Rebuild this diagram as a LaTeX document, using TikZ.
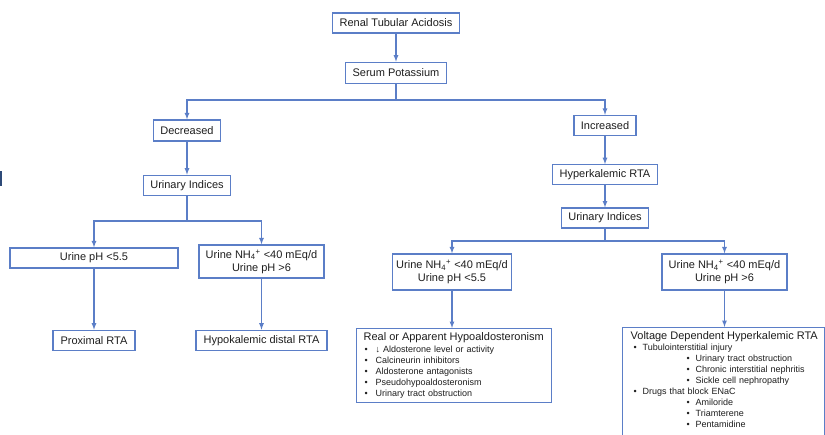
\documentclass[tikz,border=0pt]{standalone}
\usepackage{fontspec}
\setmainfont{Liberation Sans}
\usetikzlibrary{positioning,arrows}
\definecolor{rtablue}{HTML}{5B7EC7}
\definecolor{rtaink}{HTML}{1E1E1E}
\definecolor{rtanavy}{HTML}{2E4A78}
\def\boxfont{\fontsize{11}{13}\selectfont}
\def\listfont{\fontsize{9}{11}\selectfont}
\tikzstyle{stage}=[draw=rtablue,line width=1.3pt,fill=white,text=rtaink,font=\boxfont,inner xsep=4pt,inner ysep=2pt,minimum height=20pt]
\tikzstyle{listbox}=[anchor=north west,align=left,font=\listfont,inner xsep=7pt,inner ysep=4pt]
\tikzstyle{link}=[->,draw=rtablue,line width=1.2pt]
\newcommand{\newBox}[4]{\node[stage,#3](#1)[#4]{#2};}
\newcommand{\newArrow}[3]{\draw[link] (#1) #3 (#2);}
\newcommand{\bul}[2]{\hspace*{#1}\makebox[#2][l]{\textbullet}}
\newcommand{\nhfour}{NH\textsubscript{4}\textsuperscript{+}}

\begin{document}
\begin{tikzpicture}[x=1pt,y=-1pt,>=latex,node distance=20pt and 20pt]
      \useasboundingbox (0,0) rectangle (825,435);
      \clip (0,0) rectangle (825,435);
      \fill[rtanavy] (0,171) rectangle (1.8,186);
      % top of the tree
      \newBox{rta}{Renal Tubular Acidosis}{minimum width=127pt}{at={(396,23)}}
      \newBox{sp}{Serum Potassium}{minimum width=101pt,minimum height=21pt}{below=28pt of rta}
      \newBox{dec}{Decreased}{minimum width=67pt,minimum height=21pt}{at={(187,130.5)}}
      \newBox{inc}{Increased}{minimum width=62pt}{at={(605,125.5)}}
      \coordinate (kJoin) at (396,100);
      \draw[link,-] (sp) -- (kJoin);
      \newArrow{rta}{sp}{--}
      \newArrow{kJoin}{dec}{-|}
      \newArrow{kJoin}{inc}{-|}
      % low potassium side
      \newBox{uiL}{Urinary Indices}{minimum width=87pt}{below=33pt of dec}
      \newBox{phL}{Urine pH <5.5}{minimum width=168pt}{at={(94,258)}}
      \newBox{nhL}{Urine \nhfour{} <40 mEq/d\\Urine pH >6}{minimum width=125pt,minimum height=33pt,align=center}{at={(261.5,261.5)}}
      \newBox{prox}{Proximal RTA}{minimum width=82pt}{below=61pt of phL}
      \newBox{hypo}{Hypokalemic distal RTA}{minimum width=131pt}{below=51pt of nhL}
      \newArrow{dec}{uiL}{--}
      \coordinate (lJoin) at (187,221);
      \draw[link,-] (uiL) -- (lJoin);
      \newArrow{lJoin}{phL}{-|}
      \newArrow{lJoin}{nhL}{-|}
      \newArrow{phL}{prox}{--}
      \newArrow{nhL}{hypo}{--}
      % high potassium side
      \newBox{hk}{Hyperkalemic RTA}{minimum width=105pt}{below=28pt of inc}
      \newBox{uiR}{Urinary Indices}{minimum width=87pt}{below=22pt of hk}
      \newBox{nhM}{Urine \nhfour{} <40 mEq/d\\Urine pH <5.5}{minimum width=117pt,minimum height=36pt,align=center}{at={(452,272)}}
      \newBox{nhR}{Urine \nhfour{} <40 mEq/d\\Urine pH >6}{minimum width=125pt,minimum height=36pt,align=center}{at={(724.5,272)}}
      \newArrow{inc}{hk}{--}
      \newArrow{hk}{uiR}{--}
      \coordinate (rJoin) at (605,241);
      \draw[link,-] (uiR) -- (rJoin);
      \newArrow{rJoin}{nhM}{-|}
      \newArrow{rJoin}{nhR}{-|}
      \newBox{real}{{\boxfont Real or Apparent Hypoaldosteronism}\\[1pt]
        \bul{1pt}{11pt}↓ Aldosterone level or activity\\
        \bul{1pt}{11pt}Calcineurin inhibitors\\
        \bul{1pt}{11pt}Aldosterone antagonists\\
        \bul{1pt}{11pt}Pseudohypoaldosteronism\\
        \bul{1pt}{11pt}Urinary tract obstruction}{listbox,text width=181pt}{at={(356,328)}}
      \newBox{volt}{\mbox{\boxfont Voltage Dependent Hyperkalemic RTA}\\
        \bul{3pt}{9pt}Tubulointerstitial injury\\
        \bul{56pt}{9pt}Urinary tract obstruction\\
        \bul{56pt}{9pt}Chronic interstitial nephritis\\
        \bul{56pt}{9pt}Sickle cell nephropathy\\
        \bul{3pt}{9pt}Drugs that block ENaC\\
        \bul{56pt}{9pt}Amiloride\\
        \bul{56pt}{9pt}Triamterene\\
        \bul{56pt}{9pt}Pentamidine\rule[-14pt]{0pt}{14pt}}{listbox,inner xsep=8pt,text width=185.5pt}{at={(622,327)}}
      \draw[link] (nhM) -- (nhM |- real.north);
      \draw[link] (nhR) -- (nhR |- volt.north);
    \end{tikzpicture}
\end{document}
